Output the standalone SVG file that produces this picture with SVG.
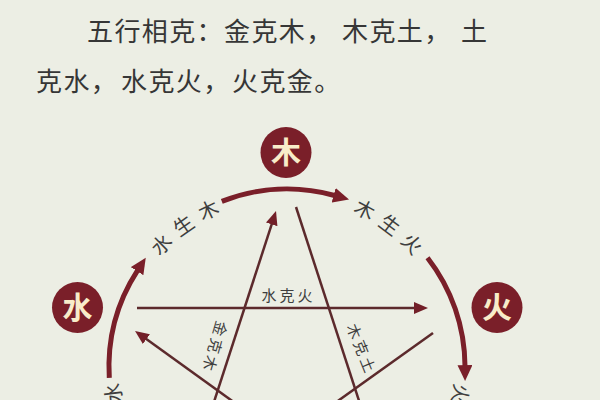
<svg xmlns="http://www.w3.org/2000/svg" width="600" height="400" viewBox="0 0 600 400">
<style>
.title{font-family:"Noto Sans CJK SC","Noto Sans",sans-serif;font-size:26px;fill:#363636;letter-spacing:1.4px}
.node circle{fill:#7a1f29}
.node text{font-family:"Noto Sans CJK SC",sans-serif;font-size:30px;font-weight:700;fill:#f8ecc9;text-anchor:middle}
.arc{fill:none;stroke:#7a1f29;stroke-width:5}
.star{fill:none;stroke:#5c2a2c;stroke-width:2.5}
.olabel{font-family:"Noto Sans CJK SC",sans-serif;font-size:20px;fill:#3e3e3e;letter-spacing:8px}
.ilabel{font-family:"Noto Sans CJK SC",sans-serif;font-size:15px;fill:#3e3e3e;letter-spacing:3px;text-anchor:middle}
</style>
<defs>
<marker id="ah" markerUnits="userSpaceOnUse" markerWidth="18" markerHeight="16" refX="1" refY="7.5" orient="auto"><path d="M0,0 L16,7.5 L0,15 z" fill="#7a1f29"/></marker>
<marker id="ai" markerUnits="userSpaceOnUse" markerWidth="16" markerHeight="13" refX="1" refY="6" orient="auto"><path d="M0,0 L14,6 L0,12 z" fill="#721f28"/></marker>
<path id="tp1" d="M147.7,273.1 A168,168 0 0 1 240.7,205.5"/>
<path id="tp2" d="M333.3,205.5 A168,168 0 0 1 426.3,273.1"/>
<path id="tp3" d="M154.6,470.4 A168,168 0 0 1 119.1,361.1"/>
<path id="tp4" d="M454.9,362.6 A168,168 0 0 1 418.5,471.6"/>
</defs>
<rect width="600" height="400" fill="#eceee4"/>
<g id="title">
<text class="title" y="41"><tspan x="87">五行相克：金克木，</tspan><tspan x="342">木克土，</tspan><tspan x="461">土</tspan></text>
<text class="title" y="90.5"><tspan x="36">克水，</tspan><tspan x="121">水克火，</tspan><tspan x="232">火克金。</tspan></text>
</g>
<g id="connectors">
<path class="arc" d="M109.3,377.9 A178,178 0 0 1 137.6,270.3" marker-end="url(#ah)"/>
<path class="arc" d="M221.8,201.4 A178,178 0 0 1 334.6,195.5" marker-end="url(#ah)"/>
<path class="arc" d="M427.5,257.7 A178,178 0 0 1 465,366.1" marker-end="url(#ah)"/>
<path class="star" d="M212,408 L272,223.4" marker-end="url(#ai)"/>
<path class="star" d="M296,207 L362,410"/>
<path class="star" d="M137,308 L415,308" marker-end="url(#ai)"/>
<path class="star" d="M242,408 L145.6,338.6" marker-end="url(#ai)"/>
<path class="star" d="M433,333 L328,408"/>
<text class="olabel"><textPath href="#tp1" startOffset="62" text-anchor="middle">水生木</textPath></text>
<text class="olabel"><textPath href="#tp2" startOffset="62" text-anchor="middle">木生火</textPath></text>
<text class="olabel"><textPath href="#tp3" startOffset="62" text-anchor="middle">金生水</textPath></text>
<text class="olabel"><textPath href="#tp4" startOffset="62" text-anchor="middle">火生土</textPath></text>
<text class="ilabel" x="288.5" y="301">水克火</text>
<text class="ilabel" transform="translate(215,346) rotate(106)" x="1.5" y="5.5">金克木</text>
<text class="ilabel" transform="translate(361,348) rotate(68)" x="1.5" y="5.5">木克土</text>
</g>
<g id="node-mu" class="node"><circle cx="286" cy="152.5" r="25.5"/><text x="286" y="163">木</text></g>
<g id="node-shui" class="node"><circle cx="77.5" cy="307.5" r="25.5"/><text x="77.5" y="318">水</text></g>
<g id="node-huo" class="node"><circle cx="497" cy="307.5" r="25.5"/><text x="497" y="318">火</text></g>
</svg>
